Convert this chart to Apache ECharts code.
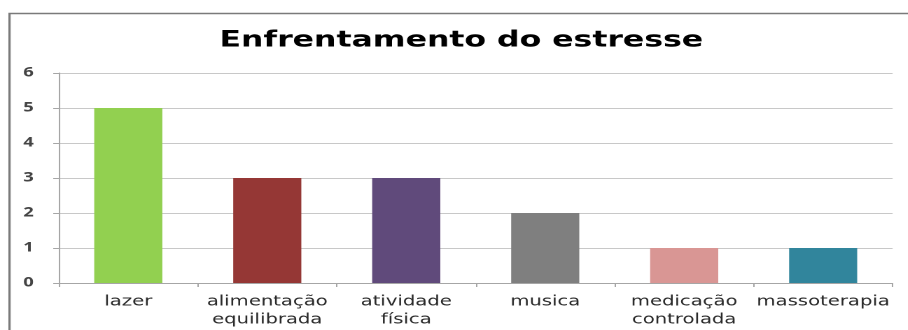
<!DOCTYPE html>
<html><head><meta charset="utf-8">
<script src="https://cdn.jsdelivr.net/npm/echarts@6/dist/echarts.min.js"></script>
<style>
html,body{margin:0;padding:0;background:#fff;overflow:hidden}
#wrap{width:908px;height:330px;overflow:hidden}
#c{width:649px;height:330px;transform:scaleX(1.4);transform-origin:0 0}
</style>
</head><body><div id="wrap"><div id="c"></div></div>
<script>
const categories = ['lazer', 'alimentação\nequilibrada', 'atividade\nfísica', 'musica', 'medicação\ncontrolada', 'massoterapia'];
const values = [5, 3, 3, 2, 1, 1];
const barColors = ['#92D050', '#953735', '#604A7B', '#7F7F7F', '#D99694', '#31859C'];
const yTicks = [0, 1, 2, 3, 4, 5, 6];
const titleText = 'Enfrentamento do estresse';

const chart = echarts.init(document.getElementById('c'), null, {renderer: 'canvas', devicePixelRatio: 2});
chart.setOption({
  animation: false,
  backgroundColor: '#fff',
  title: {
    text: titleText, left: 324.5, top: 24, textAlign: 'center',
    textStyle: {fontFamily: 'DejaVu Sans', fontWeight: 'bold', fontSize: 22.5, color: '#000'}
  },
  graphic: [{
    type: 'rect', shape: {x: 6.8, y: 13.5, width: 700, height: 330},
    style: {fill: 'none', stroke: '#7a7a7a', lineWidth: 1.6}, silent: true, z: -1
  }],
  grid: {left: 42, right: 11.4, top: 73, bottom: 47},
  xAxis: {
    type: 'category', data: categories,
    axisLine: {lineStyle: {color: '#a6a6a6'}},
    axisTick: {show: true, alignWithLabel: false, length: 4, lineStyle: {color: '#a6a6a6'}},
    axisLabel: {fontFamily: 'DejaVu Sans', fontSize: 14, color: '#2a2a2a', margin: 10, lineHeight: 18, interval: 0}
  },
  yAxis: {
    type: 'value', min: yTicks[0], max: yTicks[yTicks.length - 1], interval: 1,
    axisLine: {show: true, lineStyle: {color: '#a6a6a6'}},
    axisTick: {show: true, length: 4, lineStyle: {color: '#a6a6a6'}},
    splitLine: {lineStyle: {color: '#c8c8c8', width: 1}},
    axisLabel: {fontFamily: 'Open Sans', fontSize: 13, fontWeight: 'bold', color: '#444', margin: 18}
  },
  series: [{
    type: 'bar', barWidth: '49%',
    data: values.map((v, i) => ({value: v, itemStyle: {color: barColors[i]}}))
  }]
});
</script></body></html>
